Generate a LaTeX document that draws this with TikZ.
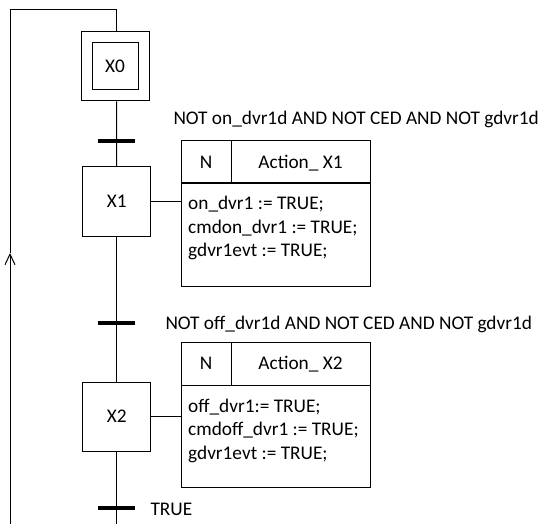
\documentclass[tikz,border=0pt]{standalone}
\usepackage{fontspec}
\setmainfont{Carlito}
\usetikzlibrary{arrows.meta}
\begin{document}
\begin{tikzpicture}[x=1pt,y=-1pt,line width=1pt,
  txt/.style={font=\fontsize{19.3}{23.6}\selectfont, inner sep=0pt},
  stepbox/.style={draw, txt, minimum width=68pt, minimum height=69pt},
  initbox/.style={draw, txt, minimum width=46pt, minimum height=47pt},
  outerbox/.style={draw, minimum width=68pt, minimum height=69pt, inner sep=0pt},
  bar/.style={fill=black, draw=none, minimum width=37pt, minimum height=4.5pt, inner sep=0pt},
  cellbox/.style={draw, inner sep=0pt},
  cond/.style={txt, anchor=base west},
  actline/.style={txt, anchor=base west}]
\useasboundingbox (0,0) rectangle (549,524);

% steps
\node[outerbox] (X0out) at (115,66.5) {};
\node[initbox] (X0) at (115,66.5) {X0};
\node[stepbox] (X1) at (116.7,201.5) {X1};
\node[stepbox] (X2) at (116.7,416.5) {X2};

% transitions
\node[bar] (bar1) at (116.5,141) {};
\node[bar] (bar2) at (116.5,323) {};
\node[bar] (bar3) at (116.5,508) {};
\node[cond] (c1) at (173,124.8) {NOT on\_dvr1d AND NOT CED AND NOT gdvr1d};
\node[cond] (c2) at (165,329.5) {NOT off\_dvr1d AND NOT CED AND NOT gdvr1d};
\node[cond] (c3) at (150,515) {TRUE};

% action block 1
\node[cellbox, minimum width=50pt, minimum height=42pt] (a1N) at (206,162) {};
\node[cellbox, minimum width=139pt, minimum height=42pt] (a1H) at (300.5,162) {};
\node[cellbox, minimum width=189pt, minimum height=103pt] (a1B) at (275.5,234.5) {};
\node[txt, anchor=base] (a1Nt) at (206,168.3) {N};
\node[txt, anchor=base] (a1Ht) at (300.5,168.3) {Action\_ X1};
\node[actline] (a1l1) at (187.7,209.3) {on\_dvr1 := TRUE;};
\node[actline] (a1l2) at (187.7,233.0) {cmdon\_dvr1 := TRUE;};
\node[actline] (a1l3) at (187.7,256.5) {gdvr1evt := TRUE;};

% action block 2
\node[cellbox, minimum width=50pt, minimum height=43pt] (a2N) at (206,363.5) {};
\node[cellbox, minimum width=139pt, minimum height=43pt] (a2H) at (300.5,363.5) {};
\node[cellbox, minimum width=189pt, minimum height=102pt] (a2B) at (275.5,436) {};
\node[txt, anchor=base] (a2Nt) at (206,369.8) {N};
\node[txt, anchor=base] (a2Ht) at (300.5,369.8) {Action\_ X2};
\node[actline] (a2l1) at (187.7,412) {off\_dvr1:= TRUE;};
\node[actline] (a2l2) at (187.7,435.7) {cmdoff\_dvr1 := TRUE;};
\node[actline] (a2l3) at (187.7,459.3) {gdvr1evt := TRUE;};

% coordinates
\coordinate (axisend) at (116.7,524);
\coordinate (loopbot) at (10,524);
\coordinate (looptop) at (10,10);
\coordinate (looparrow) at (10,253);

% main axis
\draw (X0out.south -| bar1) -- (X1.north);
\draw (X1.south) -- (X2.north);
\draw (X2.south) -- (axisend);

% links to actions
\draw (X1.east) -- (X1.east -| a1B.west);
\draw (X2.east) -- (X2.east -| a2B.west);

% return loop
\draw[-{Straight Barb[length=10.5pt,width=10pt]}] (loopbot) -- (looparrow);
\draw (looparrow) -- (looptop) -| (X0out.north -| bar1);
\end{tikzpicture}
\end{document}
